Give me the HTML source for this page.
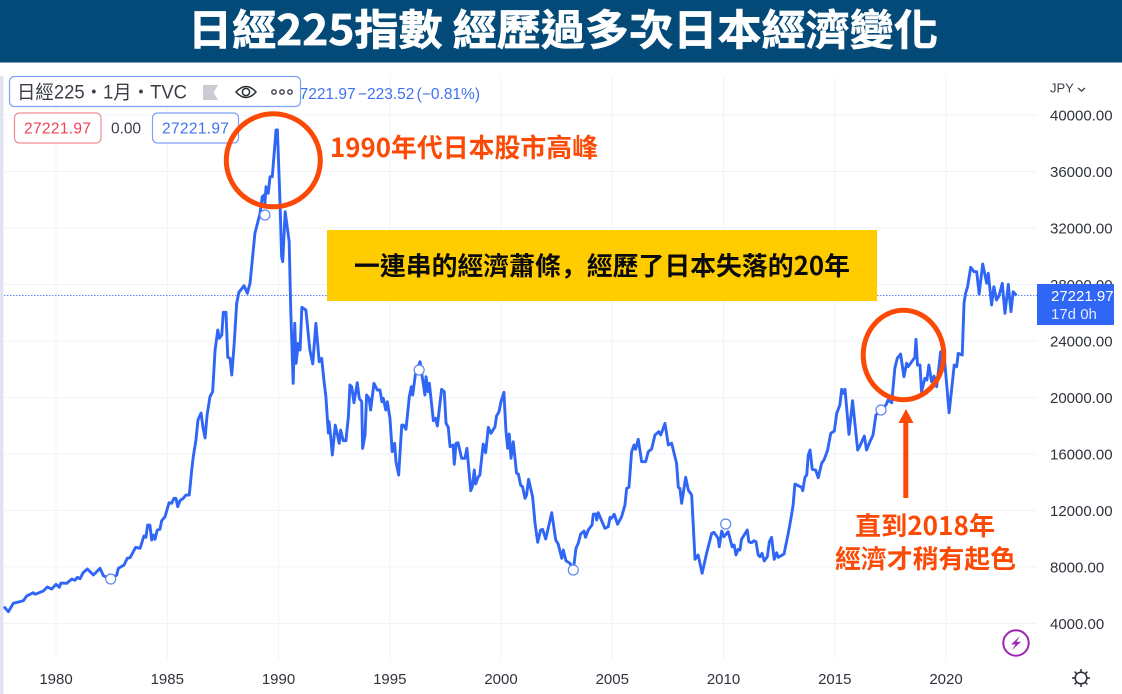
<!DOCTYPE html>
<html lang="zh-Hant">
<head>
<meta charset="utf-8">
<title>日經225指數 經歷過多次日本經濟變化</title>
<style>
html,body{margin:0;padding:0;background:#fff;width:1122px;height:694px;overflow:hidden}
svg{display:block}
text{font-family:"Liberation Sans","Noto Sans CJK TC",sans-serif}
.cjk{font-family:"Noto Sans CJK TC","Liberation Sans",sans-serif;font-weight:700}
.sc-comma{font-family:"Noto Sans CJK SC",sans-serif}
</style>
</head>
<body>
<svg id="chart" xmlns="http://www.w3.org/2000/svg" width="1122" height="694" viewBox="0 0 1122 694">
  <rect x="0" y="0" width="1122" height="694" fill="#ffffff"/>
  <rect x="0" y="76" width="3.5" height="618" fill="#e0e3f0"/>
  <g id="grid"></g>
  <g id="y-axis"></g>
  <g id="x-axis"></g>
  <g id="series"></g>
  <g id="markers"></g>

  <rect x="0" y="0" width="1122" height="62.5" fill="#034a78"/>
  <text class="cjk" x="188" y="45" font-size="42" fill="#ffffff" stroke="#ffffff" stroke-width="0.7" textLength="750" lengthAdjust="spacingAndGlyphs">日經225指數 經歷過多次日本經濟變化</text>

  <text x="480" y="99" text-anchor="end" font-size="15.5" word-spacing="-2" fill="#3f72f0">27221.97 −223.52 (−0.81%)</text>
  <rect x="9.5" y="76.5" width="291" height="30" rx="5" fill="#ffffff" stroke="#7ea0f5" stroke-width="1.2"/>
  <text x="17" y="98.5" font-size="19" fill="#3a3e48" textLength="170" lengthAdjust="spacingAndGlyphs">日經225・1月・TVC</text>
  <polygon points="203,85 218,85 213.5,92.5 218,100 203,100" fill="#c9ccd3"/>
  <g fill="none" stroke="#2a2e39" stroke-width="1.5">
    <path d="M236 92 Q246 81 256 92 Q246 103 236 92 Z"/>
    <circle cx="246" cy="92" r="3.6"/>
  </g>
  <g fill="none" stroke="#3a3e48" stroke-width="1.4">
    <circle cx="274" cy="92" r="2.2"/><circle cx="282" cy="92" r="2.2"/><circle cx="290" cy="92" r="2.2"/>
  </g>
  <rect x="14.5" y="113" width="86.5" height="30" rx="5" fill="#fff" stroke="#f28b98" stroke-width="1.2"/>
  <text x="24" y="133.5" font-size="15.5" fill="#f23f55" textLength="67">27221.97</text>
  <text x="111" y="133.5" font-size="15.5" fill="#3a3e48" textLength="30">0.00</text>
  <rect x="152.5" y="113" width="86" height="30" rx="5" fill="#fff" stroke="#7ea0f5" stroke-width="1.2"/>
  <text x="162" y="133.5" font-size="15.5" fill="#3f72f0" textLength="67">27221.97</text>

  <text x="1050" y="92.5" font-size="13" fill="#3a3e48">JPY</text>
  <path d="M1078 88 L1081.5 91 L1085 88" fill="none" stroke="#3a3e48" stroke-width="1.3"/>

  <ellipse cx="273.3" cy="160.3" rx="47" ry="46.5" fill="none" stroke="#fb4a06" stroke-width="5"/>
  <text class="cjk" x="330" y="157" font-size="26" fill="#fb4a06" textLength="268" lengthAdjust="spacingAndGlyphs">1990年代日本股市高峰</text>

  <rect x="327" y="230" width="550" height="71" fill="#ffcc00"/>
  <text class="cjk" x="354" y="275" font-size="25.5" fill="#0a0a0a" textLength="496" lengthAdjust="spacingAndGlyphs">一連串的經濟蕭條<tspan class="sc-comma" lang="zh-CN" xml:lang="zh-CN">，</tspan>經歷了日本失落的20年</text>

  <ellipse cx="903.5" cy="355" rx="40.3" ry="44.7" fill="none" stroke="#fb4a06" stroke-width="5"/>
  <g fill="#fb4a06">
    <polygon points="906,409 913.5,423 898.5,423"/>
    <rect x="903.3" y="422" width="5" height="76"/>
  </g>
  <text class="cjk" x="855" y="535" font-size="25.5" fill="#fb4a06" textLength="140" lengthAdjust="spacingAndGlyphs">直到2018年</text>
  <text class="cjk" x="835" y="568" font-size="25.5" fill="#fb4a06" textLength="181" lengthAdjust="spacingAndGlyphs">經濟才稍有起色</text>

  <g>
    <circle cx="1016" cy="643" r="12.7" fill="#fff" stroke="#9c27b0" stroke-width="2"/>
    <polygon points="1020,636 1011,644.5 1015.5,644.5 1012,650 1021,641.8 1016.5,641.8" fill="#9c27b0"/>
  </g>
  <g fill="none" stroke="#2a2e39" stroke-width="1.5">
    <circle cx="1081" cy="678" r="5.8"/>
    <path d="M1081 669V672M1081 684V687M1072 678H1075M1087 678H1090M1074.6 671.6L1076.8 673.8M1085.2 682.2L1087.4 684.4M1074.6 684.4L1076.8 682.2M1085.2 673.8L1087.4 671.6"/>
  </g>
</svg>
<script>
const years = [
1977.66,1977.86,1978.08,1978.53,1978.68,1978.98,1979.06,1979.43,1979.61,1979.81,
1980.00,1980.15,1980.22,1980.48,1980.71,1980.85,1980.96,1981.08,1981.23,1981.41,
1981.68,1981.98,1982.13,1982.46,1982.73,1982.80,1983.06,1983.20,1983.33,1983.58,
1983.78,1983.95,1984.04,1984.12,1984.22,1984.30,1984.37,1984.45,1984.55,1984.67,
1984.75,1984.90,1985.08,1985.20,1985.30,1985.39,1985.47,1985.57,1985.72,1985.84,
1985.99,1986.10,1986.17,1986.29,1986.38,1986.52,1986.61,1986.70,1986.79,1986.92,
1987.04,1987.15,1987.27,1987.34,1987.45,1987.52,1987.64,1987.72,1987.82,1987.90,
1988.01,1988.12,1988.22,1988.45,1988.60,1988.72,1988.94,1989.17,1989.27,1989.36,
1989.39,1989.44,1989.54,1989.62,1989.72,1989.89,1989.95,1990.07,1990.14,1990.19,
1990.30,1990.48,1990.55,1990.66,1990.73,1990.79,1990.89,1990.97,1991.05,1991.23,
1991.41,1991.54,1991.68,1991.83,1991.94,1992.04,1992.13,1992.24,1992.27,1992.34,
1992.42,1992.55,1992.73,1992.79,1992.91,1993.03,1993.14,1993.21,1993.29,1993.39,
1993.54,1993.63,1993.74,1993.78,1993.89,1993.96,1994.07,1994.14,1994.29,1994.44,
1994.56,1994.65,1994.71,1994.82,1994.89,1995.01,1995.11,1995.22,1995.28,1995.40,
1995.54,1995.61,1995.73,1995.88,1995.97,1996.03,1996.15,1996.36,1996.46,1996.58,
1996.63,1996.72,1996.78,1996.96,1997.06,1997.14,1997.33,1997.45,1997.53,1997.63,
1997.71,1997.85,1997.90,1997.98,1998.07,1998.23,1998.38,1998.47,1998.64,1998.71,
1998.80,1998.86,1998.98,1999.05,1999.20,1999.31,1999.43,1999.55,1999.73,1999.80,
1999.91,2000.00,2000.13,2000.22,2000.30,2000.37,2000.45,2000.55,2000.70,2000.78,
2000.88,2000.97,2001.08,2001.15,2001.24,2001.42,2001.53,2001.65,2001.78,2001.87,
2002.01,2002.28,2002.46,2002.57,2002.73,2002.80,2002.92,2003.10,2003.25,2003.37,
2003.47,2003.58,2003.73,2003.80,2003.92,2004.09,2004.15,2004.27,2004.30,2004.37,
2004.67,2004.82,2004.90,2004.97,2005.09,2005.24,2005.42,2005.57,2005.65,2005.75,
2005.87,2005.98,2006.05,2006.17,2006.32,2006.50,2006.62,2006.77,2006.92,2007.09,
2007.18,2007.37,2007.52,2007.67,2007.89,2007.97,2008.04,2008.12,2008.30,2008.42,
2008.57,2008.72,2008.86,2009.04,2009.24,2009.47,2009.57,2009.76,2009.81,2009.92,
2010.02,2010.21,2010.39,2010.48,2010.56,2010.66,2010.74,2010.81,2011.07,2011.14,
2011.26,2011.37,2011.46,2011.56,2011.64,2011.73,2011.83,2011.97,2012.06,2012.16,
2012.28,2012.39,2012.46,2012.72,2012.91,2013.02,2013.13,2013.21,2013.51,2013.56,
2013.66,2013.74,2013.81,2013.89,2013.99,2014.14,2014.26,2014.41,2014.53,2014.68,
2014.82,2014.98,2015.09,2015.23,2015.31,2015.38,2015.46,2015.64,2015.80,2016.03,
2016.13,2016.33,2016.43,2016.58,2016.72,2016.85,2017.08,2017.30,2017.40,2017.56,
2017.70,2017.81,2017.96,2018.11,2018.23,2018.30,2018.60,2018.65,2018.72,2018.83,
2018.90,2019.05,2019.14,2019.23,2019.35,2019.46,2019.58,2019.76,2019.91,2020.14,
2020.37,2020.48,2020.55,2020.73,2020.81,2020.88,2020.97,2021.11,2021.26,2021.38,
2021.49,2021.65,2021.83,2021.90,2022.05,2022.15,2022.27,2022.38,2022.53,2022.65,
2022.80,2022.92,2023.02,2023.17
];
const closes = [
5188,4834,5428,5612,5945,6179,6066,6299,6582,6441,
6774,6561,6866,6844,7149,7057,7269,7170,7623,7857,
7432,7906,7382,7128,7432,7906,8140,8614,8657,9393,
9322,10193,10101,10972,10972,9910,10264,9960,10618,10668,
11276,11560,12551,12508,12862,12862,12268,12692,12862,13096,
13096,14866,15808,16990,18406,18902,17840,17132,18760,20056,
20410,23362,24778,24190,24424,26031,26031,22845,22774,21592,
23836,26668,27447,27914,27376,28084,31624,33040,34216,34336,
33748,34924,34456,35632,35632,38938,38938,33748,29968,29614,
33154,31030,26194,21004,25252,22420,23836,23362,26385,26194,
23362,22371,25252,22534,22774,21238,20056,17486,18286,17344,
15928,18052,16756,17698,16940,16940,18640,20884,20764,19631,
21047,19942,19702,16402,17344,20176,19942,19114,21004,20530,
20530,19702,19942,19114,19702,18526,16162,16756,15454,14512,
18052,18052,17748,20056,20764,20176,21592,22534,21472,20176,
21472,20410,21004,18356,18526,17981,20580,20410,18172,17889,
16516,16636,15270,16756,16799,15694,15694,16402,13400,13684,
14866,13875,14392,14512,16707,16091,17889,17464,17932,18689,
18994,19702,20367,17698,16402,17415,15694,16870,14632,14583,
13804,13684,12862,13096,14208,12976,11092,9747,10618,10668,
9981,11843,9910,9627,8614,9202,8444,8260,7786,9322,
9676,10335,10547,10101,10618,10972,11751,11751,11326,11843,
10738,10852,11517,11446,11730,11022,11560,12388,13570,13641,
16162,16636,16332,17040,15454,15454,16162,16353,17344,17578,
17344,18172,16636,16756,15340,13641,13570,12508,14349,13450,
13096,8544,8848,7552,8968,10384,10455,10030,9436,10547,
10144,10498,9436,9556,8848,9252,9202,9960,10618,9790,
9719,9860,9790,8848,8728,8968,8423,8728,9790,10101,
8544,9011,8685,8919,10384,11326,12388,13875,13641,13400,
14349,14512,15928,16282,14916,14866,14321,15340,15624,16282,
17464,17627,18880,19468,20580,20296,20580,17394,19772,16282,
16565,17273,16282,16870,17344,18760,19114,19468,19822,19631,
22066,22774,23079,21472,22420,22180,22845,24120,22300,22300,
20410,21358,21238,22300,21118,21521,20764,23242,23128,18923,
22300,22180,23128,23008,26668,27376,27844,29217,28906,28906,
27327,29451,28084,28792,26548,27844,26902,27185,28084,25960,
28014,26074,27490,27221.97
];
const markerYears = [1982.46,1989.39,1996.32,2003.25,2010.10,2017.08];
const markerValues = [7150,32920,21946,7786,11043,19114];
const yTickValues = [40000,36000,32000,28000,24000,20000,16000,12000,8000,4000];
const xTickYears = [1980,1985,1990,1995,2000,2005,2010,2015,2020];
const lastPrice = 27221.97;
const lastPriceCountdown = "17d 0h";

const NS = "http://www.w3.org/2000/svg";
const plotLeft = 4, plotRight = 1037, plotTop = 76, plotBottom = 660;
function xScale(year){ return 56 + (year - 1980) * 22.25; }
function yScale(value){ return 115 + (40000 - value) * 0.014125; }
function make(tag, parent){ const el = document.createElementNS(NS, tag); parent.appendChild(el); return el; }

const grid = document.getElementById("grid");
const yAxis = document.getElementById("y-axis");
const xAxis = document.getElementById("x-axis");
const series = document.getElementById("series");
const markers = document.getElementById("markers");

yTickValues.forEach(function(v){
  const line = make("line", grid);
  
  
  line.setAttribute("x1", plotLeft); line.setAttribute("x2", plotRight);
  line.setAttribute("y1", yScale(v)); line.setAttribute("y2", yScale(v));
  line.setAttribute("stroke", "#f0f3fa"); line.setAttribute("stroke-width", "1");
  const label = make("text", yAxis);
  
  
  label.setAttribute("x", 1050); label.setAttribute("y", yScale(v) + 5.3);
  label.setAttribute("font-size", "15"); label.setAttribute("fill", "#2f333d");
  label.textContent = v.toFixed(2);
});
xTickYears.forEach(function(y){
  const line = make("line", grid);
  
  
  line.setAttribute("x1", xScale(y)); line.setAttribute("x2", xScale(y));
  line.setAttribute("y1", plotTop); line.setAttribute("y2", plotBottom);
  line.setAttribute("stroke", "#f0f3fa"); line.setAttribute("stroke-width", "1");
  const label = make("text", xAxis);
  
  
  label.setAttribute("x", xScale(y)); label.setAttribute("y", 684);
  label.setAttribute("text-anchor", "middle");
  label.setAttribute("font-size", "15"); label.setAttribute("fill", "#2f333d");
  label.textContent = String(y);
});

const priceLine = make("line", series);


priceLine.setAttribute("x1", plotLeft); priceLine.setAttribute("x2", plotRight);
priceLine.setAttribute("y1", yScale(lastPrice)); priceLine.setAttribute("y2", yScale(lastPrice));
priceLine.setAttribute("stroke", "#5f86f5"); priceLine.setAttribute("stroke-width", "1");
priceLine.setAttribute("stroke-dasharray", "1.5 1.5");

const path = make("path", series);


path.setAttribute("d", years.map(function(y, i){
  return (i ? "L" : "M") + xScale(y).toFixed(2) + " " + yScale(closes[i]).toFixed(2);
}).join(""));
path.setAttribute("fill", "none");
path.setAttribute("stroke", "#2f66f6");
path.setAttribute("stroke-width", "2.9");
path.setAttribute("stroke-linejoin", "round");

markerYears.forEach(function(y, i){
  const dot = make("circle", markers);
  
  
  dot.setAttribute("cx", xScale(y)); dot.setAttribute("cy", yScale(markerValues[i]));
  dot.setAttribute("r", "5");
  dot.setAttribute("fill", "#ffffff");
  dot.setAttribute("stroke", "#5f86ea");
  dot.setAttribute("stroke-width", "1.2");
});

const tagRect = make("rect", yAxis);


tagRect.setAttribute("x", 1037); tagRect.setAttribute("y", yScale(lastPrice) - 11.5);
tagRect.setAttribute("width", 77); tagRect.setAttribute("height", 41);
tagRect.setAttribute("fill", "#2f66f6");
const tagPrice = make("text", yAxis);


tagPrice.setAttribute("x", 1051); tagPrice.setAttribute("y", yScale(lastPrice) + 5.5);
tagPrice.setAttribute("font-size", "15"); tagPrice.setAttribute("fill", "#ffffff");
tagPrice.textContent = lastPrice.toFixed(2);
const tagTime = make("text", yAxis);


tagTime.setAttribute("x", 1051); tagTime.setAttribute("y", yScale(lastPrice) + 23.5);
tagTime.setAttribute("font-size", "15"); tagTime.setAttribute("fill", "#e4ebff");
tagTime.textContent = lastPriceCountdown;
</script>
</body>
</html>
